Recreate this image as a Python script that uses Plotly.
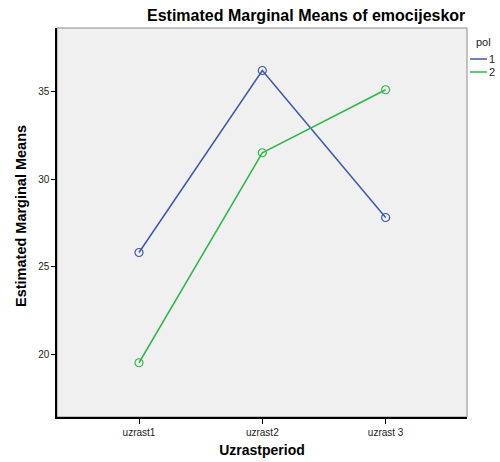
import plotly.graph_objects as go

categories = ["uzrast1", "uzrast2", "uzrast 3"]
pol1 = [25.8, 36.2, 27.8]
pol2 = [19.5, 31.5, 35.1]
series_names = ["1", "2"]
y_ticks = [20, 25, 30, 35]

colors = ["#3E58AC", "#2EB848"]
FONT = "Arial, Liberation Sans, sans-serif"

L, R, T, B = 57, 467, 28, 417
W, H = 500, 462
PW, PH = R - L, B - T

def px(x):
    return (x - L) / PW

def py(y):
    return (B - y) / PH

fig = go.Figure()
for name, vals, col in zip(series_names, [pol1, pol2], colors):
    fig.add_trace(go.Scatter(
        x=list(range(len(categories))), y=vals, name=name, mode="lines+markers",
        line=dict(color=col, width=1.5),
        marker=dict(symbol="circle-open", size=8, color=col, line=dict(width=1.2, color=col)),
        showlegend=False,
    ))

fig.update_layout(
    width=W, height=H,
    margin=dict(l=L, r=W - R, t=T, b=H - B),
    paper_bgcolor="white", plot_bgcolor="#F0F0F0",
    font=dict(family=FONT, color="#222222", size=10),
    xaxis=dict(
        range=[-0.665, 2.66], tickmode="array", tickvals=list(range(len(categories))),
        ticktext=categories, showgrid=False, zeroline=False, automargin=False,
        showline=True, linecolor="black", linewidth=1.5,
        ticks="outside", ticklen=5, tickcolor="black", tickwidth=1,
        tickfont=dict(size=10, color="#222222"),
        title=dict(text="<b>Uzrastperiod</b>", font=dict(size=14, color="black"), standoff=8),
    ),
    yaxis=dict(
        range=[16.4, 38.63], tickvals=y_ticks, showgrid=False, zeroline=False, automargin=False,
        showline=True, linecolor="black", linewidth=1.5,
        ticks="outside", ticklen=4, tickcolor="black", tickwidth=1,
        tickfont=dict(size=10, color="#222222"),
    ),
    shapes=[
        dict(type="rect", xref="paper", yref="paper", x0=0, x1=1, y0=0, y1=1,
             line=dict(color="#8C8C8C", width=1), layer="below"),
    ],
    annotations=[
        dict(text="<b>Estimated Marginal Means of emocijeskor</b>", xref="paper", yref="paper",
             x=1, y=1, xanchor="right", yanchor="bottom", yshift=2, showarrow=False,
             font=dict(size=16, color="black")),
        dict(text="<b>Estimated Marginal Means</b>", xref="paper", yref="paper",
             x=px(21), y=py(216), xanchor="center", yanchor="middle", textangle=-90,
             showarrow=False, font=dict(size=14.5, color="black")),
    ],
)

# compact legend drawn beside the plot
leg_x0 = 470
fig.add_annotation(text="pol", xref="paper", yref="paper", x=px(leg_x0 + 4),
                   y=py(42), xanchor="left", yanchor="middle",
                   showarrow=False, font=dict(size=11, color="#222222"))
for i, (name, col) in enumerate(zip(series_names, colors)):
    yp = py(59 + i * 13)
    fig.add_shape(type="line", xref="paper", yref="paper",
                  x0=px(leg_x0), x1=px(leg_x0 + 17), y0=yp, y1=yp,
                  line=dict(color=col, width=1.5))
    fig.add_annotation(text=name, xref="paper", yref="paper", x=px(leg_x0 + 17),
                       y=yp, xanchor="left", yanchor="middle", showarrow=False,
                       font=dict(size=11, color="#222222"))

fig.write_html("out.html", config={"displayModeBar": False},
               post_script="document.body.style.margin='0';document.body.style.overflow='hidden';")
